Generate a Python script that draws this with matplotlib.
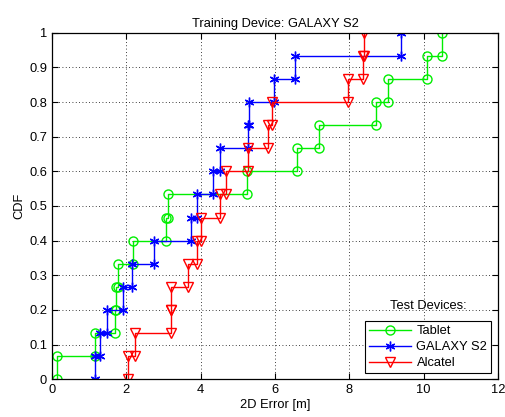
import numpy as np
import matplotlib
matplotlib.use("Agg")
import matplotlib.pyplot as plt

plt.rcParams['font.family'] = ['Liberation Sans', 'DejaVu Sans']

tablet = [0.14, 1.16, 1.69, 1.72, 1.78, 2.19, 3.06, 3.11, 5.25, 6.58, 7.18, 8.72, 9.05, 10.1, 10.5]
galaxy = [1.16, 1.29, 1.47, 1.92, 2.14, 2.74, 3.75, 3.89, 4.34, 4.52, 5.28, 5.29, 5.98, 6.53, 9.38]
alcatel = [2.05, 2.23, 3.19, 3.20, 3.65, 3.89, 4.00, 4.52, 4.68, 5.28, 5.81, 5.92, 7.97, 8.37, 8.40]

series_names = ['Tablet', 'GALAXY S2', 'Alcatel']
title = 'Training Device: GALAXY S2'
xlabel = '2D Error [m]'
ylabel = 'CDF'
legend_title = 'Test Devices:'


def step_points(vals):
    v = np.sort(np.asarray(vals, dtype=float))
    n = len(v)
    xs, ys = [], []
    for i, x in enumerate(v):
        xs += [x, x]
        ys += [i / n, (i + 1) / n]
    return np.array(xs), np.array(ys)


FS = 9.3
fig = plt.figure(figsize=(5.05, 4.17), dpi=100)
ax = fig.add_axes([0.103, 0.0904, 0.883, 0.8312])

styles = [
    dict(color='#00ee00', marker='o', markersize=6.5, markerfacecolor='none', markeredgewidth=1.0),
    dict(color='#0000ff', marker=(6, 2, 0), markersize=7, markeredgewidth=1.0),
    dict(color='#ff0000', marker='v', markersize=7, markerfacecolor='none', markeredgewidth=1.0),
]
for vals, name, st in zip([tablet, galaxy, alcatel], series_names, styles):
    xs, ys = step_points(vals)
    ax.plot(xs, ys, linewidth=1.0, label=name, **st)

ax.set_xlim(0, 12)
ax.set_ylim(0, 1)
ax.set_xticks(np.arange(0, 13, 2))
ax.set_yticks(np.round(np.arange(0, 1.01, 0.1), 1))
ax.set_yticklabels(['0', '0.1', '0.2', '0.3', '0.4', '0.5', '0.6', '0.7', '0.8', '0.9', '1'])
ax.grid(True, linestyle=(0, (1, 3)), color='black', linewidth=0.6)
ax.tick_params(direction='in', top=True, right=True, labelsize=FS, length=4, width=0.8)
for s in ax.spines.values():
    s.set_linewidth(0.9)

ax.set_title(title, fontsize=FS, pad=4)
ax.set_xlabel(xlabel, fontsize=FS, labelpad=2)
ax.set_ylabel(ylabel, fontsize=FS, labelpad=3)

leg = ax.legend(loc='lower right', bbox_to_anchor=(0.985, 0.018), fontsize=FS, frameon=True,
                fancybox=False, edgecolor='black', framealpha=1, handlelength=3.3,
                borderpad=0.3, labelspacing=0.3, handletextpad=0.4, borderaxespad=0)
leg.get_frame().set_linewidth(0.8)
ax.text(0.843, 0.195, legend_title, transform=ax.transAxes, fontsize=FS, ha='center', va='bottom')

fig.savefig('out.png', dpi=100)
